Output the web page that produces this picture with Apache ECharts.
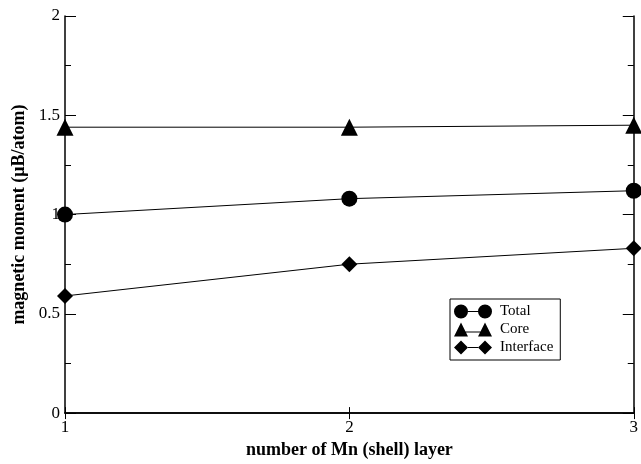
<!DOCTYPE html>
<html>
<head>
<meta charset="utf-8">
<script src="https://cdn.jsdelivr.net/npm/echarts@6/dist/echarts.min.js"></script>
<style>
  html, body {margin: 0; padding: 0; background: #fff;}
  #chart {width: 641px; height: 464px;}
</style>
</head>
<body>
<div id="chart"></div>
<script>
// data
const layers = [1, 2, 3];
const totalVals = [1.00, 1.08, 1.12];
const coreVals = [1.44, 1.44, 1.45];
const interfaceVals = [0.59, 0.75, 0.83];
const seriesNames = ['Total', 'Core', 'Interface'];

const font = '"Liberation Serif", "DejaVu Serif", serif';

// legend icons: two markers joined by a line
const iconTotal = 'path://M0,7 A7,7 0 1,0 14,7 A7,7 0 1,0 0,7 Z M24,7 A7,7 0 1,0 38,7 A7,7 0 1,0 24,7 Z M14,6.5 L24,6.5 L24,7.5 L14,7.5 Z';
const iconCore = 'path://M7,0 L14,14 L0,14 Z M31,0 L38,14 L24,14 Z M10,9 L28,9 L28,10 L10,10 Z';
const iconInterface = 'path://M7,0 L14,7 L7,14 L0,7 Z M31,0 L38,7 L31,14 L24,7 Z M14,6.5 L24,6.5 L24,7.5 L14,7.5 Z';

function makeSeries(name, vals, symbol, size) {
  return {
    name: name,
    type: 'line',
    data: layers.map((x, i) => [x, vals[i]]),
    symbol: symbol,
    symbolSize: size,
    showAllSymbol: true,
    clip: false,
    lineStyle: {color: '#000', width: 1},
    itemStyle: {color: '#000'},
    emphasis: {disabled: true},
    z: 3
  };
}

const axisLine = {show: true, lineStyle: {color: '#000', width: 1.5}};

const option = {
  animation: false,
  backgroundColor: '#fff',
  grid: {left: 65, right: 3, top: 16, bottom: 48, containLabel: false},
  legend: {
    orient: 'vertical',
    left: 450,
    top: 299,
    padding: [5, 7, 5, 4],
    itemGap: 3,
    itemWidth: 38,
    itemHeight: 15,
    borderColor: '#000',
    borderWidth: 1,
    borderRadius: 0,
    backgroundColor: '#fff',
    textStyle: {fontFamily: font, fontSize: 15, color: '#000', padding: [0, 0, 0, 3]},
    data: [
      {name: seriesNames[0], icon: iconTotal},
      {name: seriesNames[1], icon: iconCore},
      {name: seriesNames[2], icon: iconInterface}
    ]
  },
  xAxis: [
    {
      type: 'value', min: 1, max: 3, interval: 1,
      name: 'number of Mn (shell) layer',
      nameLocation: 'middle', nameGap: 27,
      nameTextStyle: {fontFamily: font, fontSize: 18, fontWeight: 'bold', color: '#000'},
      axisLine: axisLine,
      axisTick: {show: true, inside: true, length: 6, lineStyle: {color: '#000'}},
      axisLabel: {fontFamily: font, fontSize: 17, color: '#000', margin: 6, showMinLabel: true, showMaxLabel: true},
      splitLine: {show: false}
    },
    {
      type: 'value', min: 1, max: 3, interval: 1, position: 'top',
      axisLine: axisLine,
      axisTick: {show: true, inside: true, length: 6, lineStyle: {color: '#000'}},
      axisLabel: {show: false},
      splitLine: {show: false}
    }
  ],
  yAxis: [
    {
      type: 'value', min: 0, max: 2, interval: 0.5,
      name: 'magnetic moment (\u03bcB/atom)',
      nameLocation: 'middle', nameGap: 36, nameRotate: 90,
      nameTextStyle: {fontFamily: font, fontSize: 18, fontWeight: 'bold', color: '#000'},
      axisLine: axisLine,
      axisTick: {show: true, inside: true, length: 11, lineStyle: {color: '#000'}},
      minorTick: {show: true, splitNumber: 2, length: 6, lineStyle: {color: '#000'}},
      axisLabel: {fontFamily: font, fontSize: 17, color: '#000', margin: 5},
      splitLine: {show: false}
    },
    {
      type: 'value', min: 0, max: 2, interval: 0.5, position: 'right',
      axisLine: axisLine,
      axisTick: {show: true, inside: true, length: 11, lineStyle: {color: '#000'}},
      minorTick: {show: true, splitNumber: 2, length: 6, lineStyle: {color: '#000'}},
      axisLabel: {show: false},
      splitLine: {show: false}
    }
  ],
  series: [
    makeSeries(seriesNames[0], totalVals, 'circle', 16),
    makeSeries(seriesNames[1], coreVals, 'triangle', 17),
    makeSeries(seriesNames[2], interfaceVals, 'diamond', 16)
  ]
};

const chart = echarts.init(document.getElementById('chart'), null, {renderer: 'canvas'});
chart.setOption(option);
</script>
</body>
</html>
